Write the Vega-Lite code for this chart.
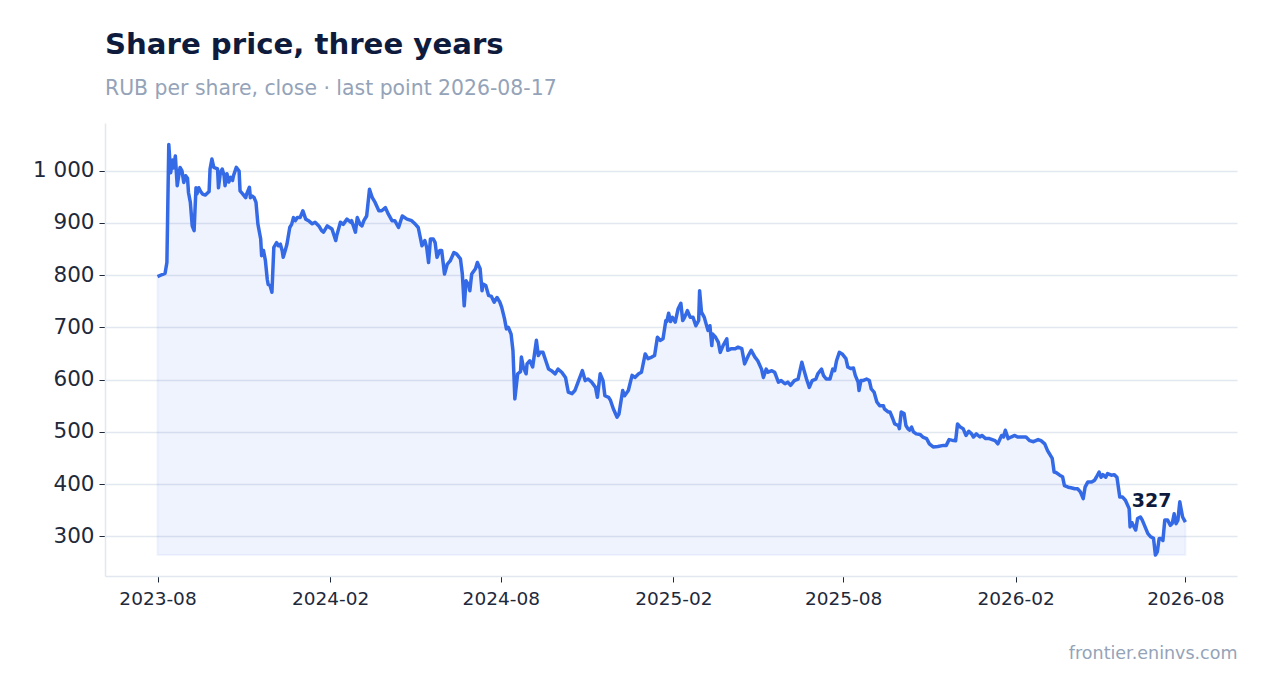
{
  "$schema": "https://vega.github.io/schema/vega-lite/v6.json",
  "width": 1132,
  "height": 453,
  "autosize": "none",
  "padding": {"left": 105, "top": 123, "right": 30, "bottom": 117},
  "background": "white",
  "config": {
    "font": "DejaVu Sans",
    "view": {"stroke": null},
    "axis": {
      "domainColor": "#e2e8f0",
      "domainWidth": 1.5,
      "gridColor": "#e2e8f0",
      "gridWidth": 1.5,
      "tickColor": "#1e293b",
      "tickSize": 6,
      "labelColor": "#1e293b",
      "labelFont": "DejaVu Sans"
    }
  },
  "title": {
    "text": "Share price, three years",
    "subtitle": "RUB per share, close · last point 2026-08-17",
    "anchor": "start",
    "frame": "group",
    "font": "DejaVu Sans",
    "fontSize": 29.2,
    "fontWeight": "bold",
    "color": "#0f1b3d",
    "subtitleFont": "DejaVu Sans",
    "subtitleFontSize": 20.4,
    "subtitleColor": "#94a3b8",
    "subtitlePadding": 18,
    "offset": 24
  },
  "datasets": {
    "price": [
      {"date": "2023-08-17", "close": 797},
      {"date": "2023-08-22", "close": 801},
      {"date": "2023-08-25", "close": 803},
      {"date": "2023-08-27", "close": 824},
      {"date": "2023-08-29", "close": 1050},
      {"date": "2023-08-31", "close": 996},
      {"date": "2023-09-02", "close": 1020},
      {"date": "2023-09-03", "close": 1005},
      {"date": "2023-09-05", "close": 1028},
      {"date": "2023-09-07", "close": 971},
      {"date": "2023-09-10", "close": 1006},
      {"date": "2023-09-12", "close": 1000},
      {"date": "2023-09-14", "close": 977},
      {"date": "2023-09-16", "close": 990},
      {"date": "2023-09-18", "close": 985},
      {"date": "2023-09-19", "close": 958},
      {"date": "2023-09-21", "close": 939},
      {"date": "2023-09-23", "close": 894},
      {"date": "2023-09-25", "close": 885},
      {"date": "2023-09-27", "close": 967},
      {"date": "2023-09-28", "close": 955},
      {"date": "2023-09-30", "close": 967},
      {"date": "2023-10-02", "close": 960},
      {"date": "2023-10-04", "close": 955},
      {"date": "2023-10-07", "close": 953},
      {"date": "2023-10-11", "close": 960},
      {"date": "2023-10-12", "close": 1003},
      {"date": "2023-10-14", "close": 1022},
      {"date": "2023-10-16", "close": 1006},
      {"date": "2023-10-20", "close": 1003},
      {"date": "2023-10-21", "close": 967},
      {"date": "2023-10-23", "close": 996},
      {"date": "2023-10-25", "close": 1003},
      {"date": "2023-10-27", "close": 990},
      {"date": "2023-10-28", "close": 971},
      {"date": "2023-10-30", "close": 994},
      {"date": "2023-11-01", "close": 978},
      {"date": "2023-11-03", "close": 987},
      {"date": "2023-11-05", "close": 981},
      {"date": "2023-11-06", "close": 990},
      {"date": "2023-11-09", "close": 1006},
      {"date": "2023-11-12", "close": 999},
      {"date": "2023-11-13", "close": 961},
      {"date": "2023-11-16", "close": 955},
      {"date": "2023-11-19", "close": 948},
      {"date": "2023-11-20", "close": 955},
      {"date": "2023-11-23", "close": 968},
      {"date": "2023-11-24", "close": 948},
      {"date": "2023-11-26", "close": 951},
      {"date": "2023-11-28", "close": 948},
      {"date": "2023-11-30", "close": 939},
      {"date": "2023-12-02", "close": 898},
      {"date": "2023-12-05", "close": 869},
      {"date": "2023-12-06", "close": 837},
      {"date": "2023-12-08", "close": 847},
      {"date": "2023-12-10", "close": 828},
      {"date": "2023-12-12", "close": 792},
      {"date": "2023-12-13", "close": 782},
      {"date": "2023-12-15", "close": 780},
      {"date": "2023-12-17", "close": 767},
      {"date": "2023-12-19", "close": 853},
      {"date": "2023-12-22", "close": 862},
      {"date": "2023-12-24", "close": 856},
      {"date": "2023-12-26", "close": 859},
      {"date": "2023-12-28", "close": 846},
      {"date": "2023-12-29", "close": 834},
      {"date": "2023-12-31", "close": 846},
      {"date": "2024-01-02", "close": 859},
      {"date": "2024-01-05", "close": 891},
      {"date": "2024-01-07", "close": 897},
      {"date": "2024-01-09", "close": 910},
      {"date": "2024-01-11", "close": 904},
      {"date": "2024-01-13", "close": 910},
      {"date": "2024-01-16", "close": 910},
      {"date": "2024-01-19", "close": 923},
      {"date": "2024-01-22", "close": 907},
      {"date": "2024-01-25", "close": 904},
      {"date": "2024-01-29", "close": 898},
      {"date": "2024-02-01", "close": 901},
      {"date": "2024-02-05", "close": 894},
      {"date": "2024-02-08", "close": 885},
      {"date": "2024-02-10", "close": 882},
      {"date": "2024-02-14", "close": 894},
      {"date": "2024-02-19", "close": 888},
      {"date": "2024-02-23", "close": 866},
      {"date": "2024-02-24", "close": 875},
      {"date": "2024-02-28", "close": 901},
      {"date": "2024-03-02", "close": 897},
      {"date": "2024-03-06", "close": 907},
      {"date": "2024-03-10", "close": 901},
      {"date": "2024-03-11", "close": 904},
      {"date": "2024-03-15", "close": 882},
      {"date": "2024-03-17", "close": 910},
      {"date": "2024-03-20", "close": 897},
      {"date": "2024-03-22", "close": 894},
      {"date": "2024-03-24", "close": 904},
      {"date": "2024-03-27", "close": 913},
      {"date": "2024-03-30", "close": 964},
      {"date": "2024-04-02", "close": 948},
      {"date": "2024-04-05", "close": 939},
      {"date": "2024-04-09", "close": 923},
      {"date": "2024-04-12", "close": 923},
      {"date": "2024-04-16", "close": 929},
      {"date": "2024-04-19", "close": 917},
      {"date": "2024-04-23", "close": 904},
      {"date": "2024-04-26", "close": 904},
      {"date": "2024-04-30", "close": 891},
      {"date": "2024-05-04", "close": 913},
      {"date": "2024-05-09", "close": 907},
      {"date": "2024-05-14", "close": 904},
      {"date": "2024-05-18", "close": 897},
      {"date": "2024-05-21", "close": 891},
      {"date": "2024-05-25", "close": 856},
      {"date": "2024-05-28", "close": 866},
      {"date": "2024-05-30", "close": 853},
      {"date": "2024-06-01", "close": 824},
      {"date": "2024-06-03", "close": 869},
      {"date": "2024-06-06", "close": 869},
      {"date": "2024-06-08", "close": 862},
      {"date": "2024-06-10", "close": 834},
      {"date": "2024-06-13", "close": 847},
      {"date": "2024-06-15", "close": 847},
      {"date": "2024-06-18", "close": 802},
      {"date": "2024-06-21", "close": 821},
      {"date": "2024-06-24", "close": 827},
      {"date": "2024-06-28", "close": 843},
      {"date": "2024-07-01", "close": 840},
      {"date": "2024-07-05", "close": 831},
      {"date": "2024-07-07", "close": 802},
      {"date": "2024-07-09", "close": 741},
      {"date": "2024-07-11", "close": 789},
      {"date": "2024-07-14", "close": 780},
      {"date": "2024-07-15", "close": 770},
      {"date": "2024-07-17", "close": 802},
      {"date": "2024-07-21", "close": 812},
      {"date": "2024-07-23", "close": 824},
      {"date": "2024-07-26", "close": 812},
      {"date": "2024-07-28", "close": 770},
      {"date": "2024-07-29", "close": 783},
      {"date": "2024-08-01", "close": 780},
      {"date": "2024-08-04", "close": 761},
      {"date": "2024-08-07", "close": 759},
      {"date": "2024-08-10", "close": 748},
      {"date": "2024-08-13", "close": 757},
      {"date": "2024-08-16", "close": 748},
      {"date": "2024-08-18", "close": 738},
      {"date": "2024-08-21", "close": 716},
      {"date": "2024-08-23", "close": 697},
      {"date": "2024-08-25", "close": 700},
      {"date": "2024-08-28", "close": 687},
      {"date": "2024-08-30", "close": 655},
      {"date": "2024-09-01", "close": 563},
      {"date": "2024-09-04", "close": 611},
      {"date": "2024-09-07", "close": 615},
      {"date": "2024-09-08", "close": 643},
      {"date": "2024-09-10", "close": 624},
      {"date": "2024-09-13", "close": 611},
      {"date": "2024-09-14", "close": 630},
      {"date": "2024-09-17", "close": 636},
      {"date": "2024-09-20", "close": 624},
      {"date": "2024-09-24", "close": 675},
      {"date": "2024-09-26", "close": 646},
      {"date": "2024-09-28", "close": 652},
      {"date": "2024-10-01", "close": 652},
      {"date": "2024-10-04", "close": 636},
      {"date": "2024-10-07", "close": 620},
      {"date": "2024-10-10", "close": 617},
      {"date": "2024-10-14", "close": 611},
      {"date": "2024-10-17", "close": 620},
      {"date": "2024-10-21", "close": 614},
      {"date": "2024-10-25", "close": 604},
      {"date": "2024-10-28", "close": 576},
      {"date": "2024-11-01", "close": 573},
      {"date": "2024-11-04", "close": 579},
      {"date": "2024-11-08", "close": 598},
      {"date": "2024-11-12", "close": 617},
      {"date": "2024-11-15", "close": 598},
      {"date": "2024-11-18", "close": 601},
      {"date": "2024-11-22", "close": 595},
      {"date": "2024-11-26", "close": 585},
      {"date": "2024-11-28", "close": 566},
      {"date": "2024-12-01", "close": 611},
      {"date": "2024-12-04", "close": 598},
      {"date": "2024-12-06", "close": 569},
      {"date": "2024-12-10", "close": 566},
      {"date": "2024-12-12", "close": 560},
      {"date": "2024-12-15", "close": 544},
      {"date": "2024-12-19", "close": 528},
      {"date": "2024-12-21", "close": 534},
      {"date": "2024-12-25", "close": 579},
      {"date": "2024-12-27", "close": 569},
      {"date": "2024-12-31", "close": 579},
      {"date": "2025-01-04", "close": 608},
      {"date": "2025-01-07", "close": 604},
      {"date": "2025-01-11", "close": 611},
      {"date": "2025-01-14", "close": 614},
      {"date": "2025-01-18", "close": 649},
      {"date": "2025-01-21", "close": 640},
      {"date": "2025-01-25", "close": 643},
      {"date": "2025-01-28", "close": 646},
      {"date": "2025-01-31", "close": 681},
      {"date": "2025-02-03", "close": 675},
      {"date": "2025-02-06", "close": 678},
      {"date": "2025-02-09", "close": 713},
      {"date": "2025-02-10", "close": 711},
      {"date": "2025-02-12", "close": 727},
      {"date": "2025-02-14", "close": 711},
      {"date": "2025-02-16", "close": 719},
      {"date": "2025-02-19", "close": 710},
      {"date": "2025-02-22", "close": 735},
      {"date": "2025-02-25", "close": 746},
      {"date": "2025-02-27", "close": 713},
      {"date": "2025-03-01", "close": 719},
      {"date": "2025-03-04", "close": 732},
      {"date": "2025-03-07", "close": 719},
      {"date": "2025-03-10", "close": 719},
      {"date": "2025-03-13", "close": 703},
      {"date": "2025-03-16", "close": 713},
      {"date": "2025-03-17", "close": 770},
      {"date": "2025-03-19", "close": 729},
      {"date": "2025-03-22", "close": 719},
      {"date": "2025-03-24", "close": 706},
      {"date": "2025-03-26", "close": 694},
      {"date": "2025-03-28", "close": 703},
      {"date": "2025-03-30", "close": 665},
      {"date": "2025-03-31", "close": 687},
      {"date": "2025-04-03", "close": 681},
      {"date": "2025-04-06", "close": 671},
      {"date": "2025-04-08", "close": 652},
      {"date": "2025-04-11", "close": 665},
      {"date": "2025-04-15", "close": 678},
      {"date": "2025-04-16", "close": 656},
      {"date": "2025-04-20", "close": 659},
      {"date": "2025-04-24", "close": 659},
      {"date": "2025-04-27", "close": 662},
      {"date": "2025-05-01", "close": 659},
      {"date": "2025-05-04", "close": 630},
      {"date": "2025-05-08", "close": 646},
      {"date": "2025-05-11", "close": 656},
      {"date": "2025-05-15", "close": 643},
      {"date": "2025-05-18", "close": 636},
      {"date": "2025-05-22", "close": 620},
      {"date": "2025-05-24", "close": 604},
      {"date": "2025-05-27", "close": 620},
      {"date": "2025-05-29", "close": 614},
      {"date": "2025-06-02", "close": 617},
      {"date": "2025-06-05", "close": 614},
      {"date": "2025-06-09", "close": 595},
      {"date": "2025-06-12", "close": 598},
      {"date": "2025-06-16", "close": 592},
      {"date": "2025-06-19", "close": 595},
      {"date": "2025-06-22", "close": 589},
      {"date": "2025-06-26", "close": 598},
      {"date": "2025-06-30", "close": 601},
      {"date": "2025-07-04", "close": 633},
      {"date": "2025-07-06", "close": 620},
      {"date": "2025-07-09", "close": 601},
      {"date": "2025-07-12", "close": 585},
      {"date": "2025-07-15", "close": 598},
      {"date": "2025-07-19", "close": 601},
      {"date": "2025-07-21", "close": 611},
      {"date": "2025-07-25", "close": 620},
      {"date": "2025-07-27", "close": 608},
      {"date": "2025-07-30", "close": 601},
      {"date": "2025-08-03", "close": 601},
      {"date": "2025-08-06", "close": 620},
      {"date": "2025-08-08", "close": 617},
      {"date": "2025-08-10", "close": 636},
      {"date": "2025-08-13", "close": 652},
      {"date": "2025-08-16", "close": 649},
      {"date": "2025-08-20", "close": 640},
      {"date": "2025-08-22", "close": 624},
      {"date": "2025-08-25", "close": 621},
      {"date": "2025-08-28", "close": 622},
      {"date": "2025-08-30", "close": 608},
      {"date": "2025-09-02", "close": 595},
      {"date": "2025-09-03", "close": 579},
      {"date": "2025-09-05", "close": 598},
      {"date": "2025-09-07", "close": 598},
      {"date": "2025-09-11", "close": 601},
      {"date": "2025-09-14", "close": 598},
      {"date": "2025-09-16", "close": 582},
      {"date": "2025-09-19", "close": 576},
      {"date": "2025-09-22", "close": 557},
      {"date": "2025-09-25", "close": 550},
      {"date": "2025-09-29", "close": 550},
      {"date": "2025-09-30", "close": 544},
      {"date": "2025-10-04", "close": 538},
      {"date": "2025-10-06", "close": 538},
      {"date": "2025-10-09", "close": 525},
      {"date": "2025-10-11", "close": 515},
      {"date": "2025-10-15", "close": 512},
      {"date": "2025-10-16", "close": 506},
      {"date": "2025-10-18", "close": 538},
      {"date": "2025-10-21", "close": 535},
      {"date": "2025-10-23", "close": 512},
      {"date": "2025-10-25", "close": 506},
      {"date": "2025-10-27", "close": 503},
      {"date": "2025-10-29", "close": 509},
      {"date": "2025-10-31", "close": 500},
      {"date": "2025-11-03", "close": 496},
      {"date": "2025-11-07", "close": 495},
      {"date": "2025-11-10", "close": 490},
      {"date": "2025-11-14", "close": 487},
      {"date": "2025-11-17", "close": 477},
      {"date": "2025-11-21", "close": 471},
      {"date": "2025-11-26", "close": 472},
      {"date": "2025-12-02", "close": 474},
      {"date": "2025-12-05", "close": 474},
      {"date": "2025-12-08", "close": 485},
      {"date": "2025-12-11", "close": 484},
      {"date": "2025-12-15", "close": 483},
      {"date": "2025-12-17", "close": 515},
      {"date": "2025-12-20", "close": 509},
      {"date": "2025-12-23", "close": 506},
      {"date": "2025-12-26", "close": 493},
      {"date": "2025-12-29", "close": 501},
      {"date": "2026-01-01", "close": 496},
      {"date": "2026-01-03", "close": 490},
      {"date": "2026-01-06", "close": 496},
      {"date": "2026-01-10", "close": 490},
      {"date": "2026-01-12", "close": 493},
      {"date": "2026-01-16", "close": 487},
      {"date": "2026-01-20", "close": 487},
      {"date": "2026-01-26", "close": 483},
      {"date": "2026-01-29", "close": 477},
      {"date": "2026-02-02", "close": 493},
      {"date": "2026-02-04", "close": 490},
      {"date": "2026-02-06", "close": 503},
      {"date": "2026-02-09", "close": 487},
      {"date": "2026-02-12", "close": 490},
      {"date": "2026-02-16", "close": 493},
      {"date": "2026-02-19", "close": 490},
      {"date": "2026-02-24", "close": 490},
      {"date": "2026-02-28", "close": 490},
      {"date": "2026-03-04", "close": 483},
      {"date": "2026-03-08", "close": 481},
      {"date": "2026-03-13", "close": 485},
      {"date": "2026-03-16", "close": 483},
      {"date": "2026-03-20", "close": 477},
      {"date": "2026-03-23", "close": 464},
      {"date": "2026-03-28", "close": 449},
      {"date": "2026-03-30", "close": 423},
      {"date": "2026-04-01", "close": 422},
      {"date": "2026-04-05", "close": 417},
      {"date": "2026-04-08", "close": 414},
      {"date": "2026-04-10", "close": 397},
      {"date": "2026-04-14", "close": 394},
      {"date": "2026-04-17", "close": 393},
      {"date": "2026-04-21", "close": 391},
      {"date": "2026-04-24", "close": 391},
      {"date": "2026-04-27", "close": 385},
      {"date": "2026-04-30", "close": 372},
      {"date": "2026-05-02", "close": 394},
      {"date": "2026-05-05", "close": 404},
      {"date": "2026-05-09", "close": 404},
      {"date": "2026-05-12", "close": 407},
      {"date": "2026-05-14", "close": 413},
      {"date": "2026-05-17", "close": 423},
      {"date": "2026-05-19", "close": 413},
      {"date": "2026-05-21", "close": 418},
      {"date": "2026-05-24", "close": 413},
      {"date": "2026-05-26", "close": 420},
      {"date": "2026-05-30", "close": 417},
      {"date": "2026-06-02", "close": 418},
      {"date": "2026-06-05", "close": 413},
      {"date": "2026-06-08", "close": 375},
      {"date": "2026-06-11", "close": 375},
      {"date": "2026-06-14", "close": 369},
      {"date": "2026-06-18", "close": 353},
      {"date": "2026-06-19", "close": 318},
      {"date": "2026-06-21", "close": 326},
      {"date": "2026-06-24", "close": 315},
      {"date": "2026-06-25", "close": 312},
      {"date": "2026-06-27", "close": 334},
      {"date": "2026-06-30", "close": 337},
      {"date": "2026-07-02", "close": 331},
      {"date": "2026-07-05", "close": 318},
      {"date": "2026-07-08", "close": 305},
      {"date": "2026-07-11", "close": 299},
      {"date": "2026-07-14", "close": 296},
      {"date": "2026-07-16", "close": 264},
      {"date": "2026-07-18", "close": 270},
      {"date": "2026-07-20", "close": 296},
      {"date": "2026-07-22", "close": 296},
      {"date": "2026-07-24", "close": 292},
      {"date": "2026-07-26", "close": 331},
      {"date": "2026-07-29", "close": 331},
      {"date": "2026-08-01", "close": 321},
      {"date": "2026-08-03", "close": 325},
      {"date": "2026-08-05", "close": 343},
      {"date": "2026-08-07", "close": 324},
      {"date": "2026-08-09", "close": 331},
      {"date": "2026-08-11", "close": 366},
      {"date": "2026-08-12", "close": 356},
      {"date": "2026-08-14", "close": 337},
      {"date": "2026-08-17", "close": 327}
    ]
  },
  "layer": [
    {
      "data": {"name": "price"},
      "mark": {
        "type": "area",
        "color": "#356ae6",
        "fillOpacity": 0.08,
        "stroke": "#356ae6",
        "strokeOpacity": 0.06,
        "strokeWidth": 2
      },
      "encoding": {
        "x": {
          "field": "date",
          "type": "temporal",
          "title": "frontier.eninvs.com",
          "scale": {"domain": ["2023-06-22", "2026-10-11"], "nice": false},
          "axis": {
            "values": [
              {"year": 2023, "month": 8, "date": 17},
              {"year": 2024, "month": 2, "date": 17},
              {"year": 2024, "month": 8, "date": 17},
              {"year": 2025, "month": 2, "date": 17},
              {"year": 2025, "month": 8, "date": 17},
              {"year": 2026, "month": 2, "date": 17},
              {"year": 2026, "month": 8, "date": 17}
            ],
            "format": "%Y-%m",
            "grid": false,
            "labelFontSize": 18.5,
            "labelPadding": 7,
            "titleAnchor": "end",
            "titleFontSize": 17.5,
            "titleFontWeight": "normal",
            "titleColor": "#94a3b8",
            "titlePadding": 37
          }
        },
        "y": {
          "field": "close",
          "type": "quantitative",
          "title": null,
          "scale": {"domain": [224, 1091], "nice": false, "zero": false},
          "axis": {
            "values": [300, 400, 500, 600, 700, 800, 900, 1000],
            "labelExpr": "replace(format(datum.value, ','), ',', ' ')",
            "labelFontSize": 21.5,
            "labelPadding": 5
          }
        },
        "y2": {"datum": 264}
      }
    },
    {
      "data": {"name": "price"},
      "mark": {"type": "line", "color": "#356ae6", "strokeWidth": 3.5, "strokeJoin": "round"},
      "encoding": {
        "x": {"field": "date", "type": "temporal"},
        "y": {"field": "close", "type": "quantitative"}
      }
    },
    {
      "data": {"values": [{"date": "2026-08-17", "close": 327, "label": "327"}]},
      "mark": {
        "type": "text",
        "align": "right",
        "baseline": "alphabetic",
        "dx": -14,
        "dy": -15,
        "fontSize": 19,
        "fontWeight": "bold",
        "color": "#0f1b3d"
      },
      "encoding": {
        "x": {"field": "date", "type": "temporal"},
        "y": {"field": "close", "type": "quantitative"},
        "text": {"field": "label"}
      }
    }
  ]
}
